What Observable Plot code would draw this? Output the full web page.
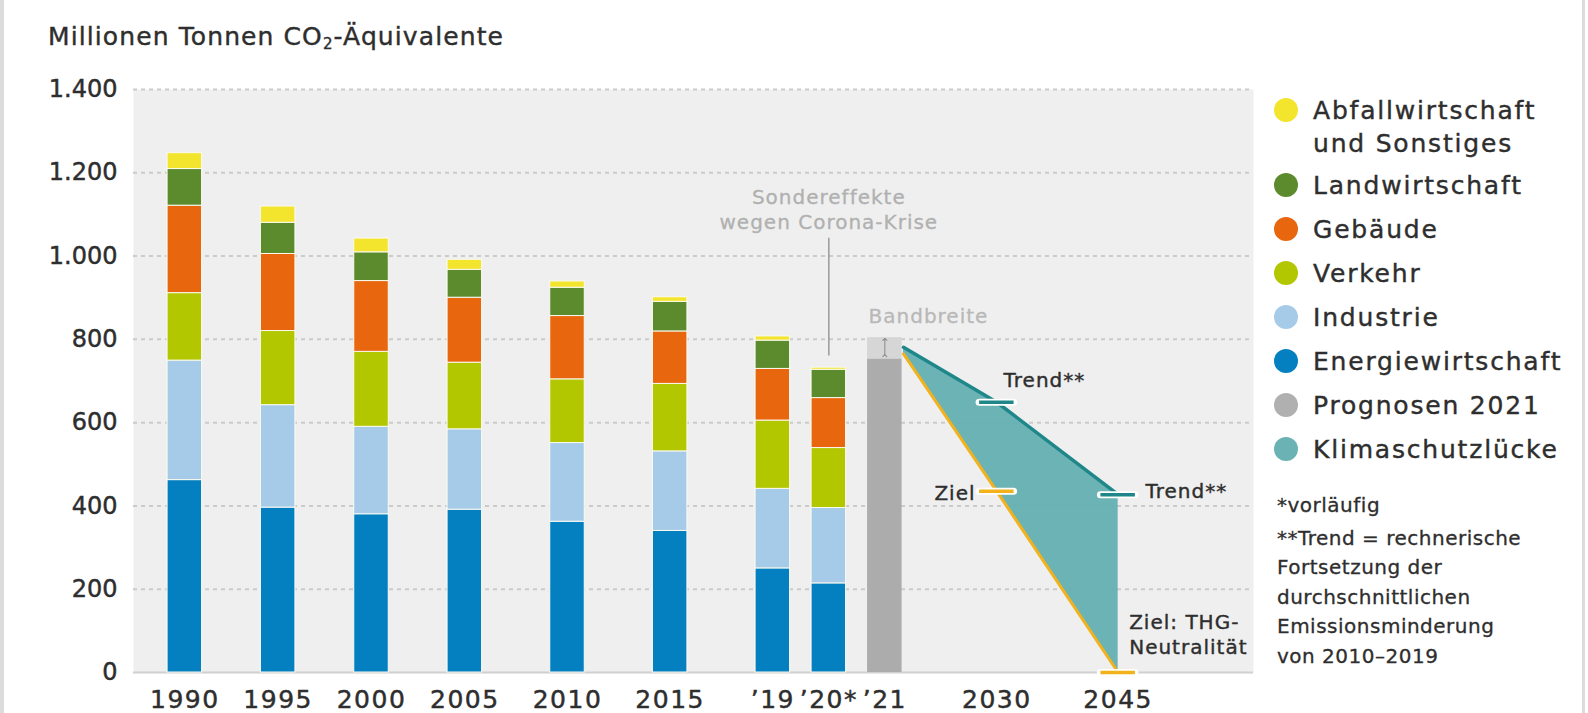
<!DOCTYPE html>
<html>
<head>
<meta charset="utf-8">
<script src="https://cdn.jsdelivr.net/npm/d3@7"></script>
<script src="https://cdn.jsdelivr.net/npm/@observablehq/plot@0.6"></script>
<style>
  body { margin: 0; background: #fff; font-family: "DejaVu Sans", sans-serif; color: #2e2e2e; }
  #wrap { position: relative; width: 1588px; height: 713px; overflow: hidden; background: #fff; }
  #chart { position: absolute; left: 0; top: 0; }
  #chart svg { display: block; }
  #chart [aria-label^="x-axis"] text { font-size: 25px; letter-spacing: 1.5px; stroke: #2e2e2e; stroke-width: 0.45px; }
  #chart [aria-label^="y-axis"] text { font-size: 24px; stroke: #2e2e2e; stroke-width: 0.45px; }
  #chart g[aria-label="text"] text { letter-spacing: 1px; }
  .title { position: absolute; left: 48px; top: 23px; font-size: 25px; letter-spacing: 1.1px; line-height: 28px; white-space: nowrap; -webkit-text-stroke: 0.4px #2e2e2e; }
  .title sub { font-size: 15px; vertical-align: -4px; line-height: 0; }
  .legend { position: absolute; left: 1274px; top: 93.5px; }
  .item { display: flex; align-items: flex-start; margin-bottom: 11px; font-size: 25px; letter-spacing: 1.8px; line-height: 33px; white-space: nowrap; -webkit-text-stroke: 0.4px #2e2e2e; }
  .item.first { margin-bottom: 9px; }
  .dot { width: 24px; height: 24px; border-radius: 50%; margin-top: 4.5px; margin-right: 15px; flex: none; }
  .notes { position: absolute; left: 1277px; top: 491px; font-size: 20px; line-height: 29.5px; letter-spacing: 0.5px; white-space: nowrap; -webkit-text-stroke: 0.3px #2e2e2e; }
  .notes .first { margin-bottom: 3px; }
  .bl { position: absolute; left: 0; top: 0; width: 4px; height: 713px; background: #dcdcdc; }
  .br { position: absolute; left: 1582px; top: 0; width: 3px; height: 713px; background: #dcdcdc; }
</style>
</head>
<body>
<div id="wrap">
  <div id="chart"></div>
  <div class="title">Millionen Tonnen CO<sub>2</sub>-Äquivalente</div>
  <div class="legend" id="legend"></div>
  <div class="notes">
    <div class="first">*vorläufig</div>
    <div>**Trend = rechnerische</div>
    <div>Fortsetzung der</div>
    <div>durchschnittlichen</div>
    <div>Emissionsminderung</div>
    <div>von 2010–2019</div>
  </div>
  <div class="bl"></div>
  <div class="br"></div>
</div>
<script>
// ---------- data ----------
const categories = ["1990", "1995", "2000", "2005", "2010", "2015", "’19", "’20*", "’21", "2030", "2045"];
const historyYears = ["1990", "1995", "2000", "2005", "2010", "2015", "’19", "’20*"];
const sectors = ["Energiewirtschaft", "Industrie", "Verkehr", "Gebäude", "Landwirtschaft", "Abfallwirtschaft und Sonstiges"];
const energiewirtschaft = [462, 396, 380, 391, 362, 340, 250, 214];
const industrie        = [287, 246, 210, 193, 189, 191, 191, 181];
const verkehr          = [162, 178, 180, 160, 153, 162, 164, 144];
const gebaeude         = [210, 185, 170, 156, 152, 126, 124, 120];
const landwirtschaft   = [88, 75, 69, 67, 68, 71, 68, 68];
const abfall           = [38, 39, 33, 24, 15, 11, 10, 5];
const prognoseYear = "’21";
const prognoseLow = 753;
const prognoseHigh = 804;
const pathKeys = ["’21+", "2030", "2045"];
const trendValues = [781, 649, 427];
const zielValues = [765, 435, 0];
const coronaRange = [760, 1043];
const yTicks = [0, 200, 400, 600, 800, 1000, 1200, 1400];
const legendLabels = ["Abfallwirtschaft\nund Sonstiges", "Landwirtschaft", "Gebäude", "Verkehr", "Industrie", "Energiewirtschaft", "Prognosen 2021", "Klimaschutzlücke"];

// ---------- styles / layout ----------
const sectorColors = ["#0480c1", "#a5cbe9", "#b3c700", "#e8670e", "#5c8b2d", "#f3e42e"];
const legendColors = ["#f3e42e", "#5c8b2d", "#e8670e", "#b3c700", "#a5cbe9", "#0480c1", "#b0b0b0", "#6ab2b3"];
const layout = {
  width: 1588, height: 713, marginLeft: 133, marginRight: 335, marginTop: 89, marginBottom: 41,
  leadSlots: 5, trailSlots: 14, barWidth: 34.5,
  gaps: {"1995": 10, "2000": 10, "2005": 10, "2010": 11, "2015": 11, "’19": 11, "’20*": 6, "’21": 6, "’21+": 2, "2030": 10, "2045": 13}
};

// band domain with spacer slots
const keys = ["1990", "1995", "2000", "2005", "2010", "2015", "’19", "’20*", "’21", "’21+", "2030", "2045"];
const xDomain = [];
let sp = 0;
const spacer = () => "_" + (sp++);
for (let i = 0; i < layout.leadSlots; i++) xDomain.push(spacer());
keys.forEach((k, i) => {
  if (i > 0) for (let j = 1; j < layout.gaps[k]; j++) xDomain.push(spacer());
  xDomain.push(k);
});
for (let i = 0; i < layout.trailSlots; i++) xDomain.push(spacer());
const bandPx = (layout.width - layout.marginLeft - layout.marginRight) / xDomain.length;
const inset = -(layout.barWidth - bandPx) / 2;

// tables
const sectorValues = [energiewirtschaft, industrie, verkehr, gebaeude, landwirtschaft, abfall];
const stacked = historyYears.flatMap((yr, i) => sectors.map((s, j) => ({year: yr, sector: s, value: sectorValues[j][i]})));
const prognoseRows = [{year: prognoseYear, low: prognoseLow, high: prognoseHigh}];
const pathRows = pathKeys.map((k, i) => ({key: k, trend: trendValues[i], ziel: zielValues[i]}));
const markerRows = pathRows.slice(1).flatMap(d => [
  {key: d.key, value: d.trend, kind: "trend"},
  {key: d.key, value: d.ziel, kind: "ziel"}
]);

const de = d3.formatLocale({decimal: ",", thousands: ".", grouping: [3], currency: ["", "€"]});
const fmt = de.format(",");

const tealLine = "#1f8789", zielLine = "#f1b21b", ink = "#2e2e2e";

const plot = Plot.plot({
  width: layout.width, height: layout.height,
  marginLeft: layout.marginLeft, marginRight: layout.marginRight,
  marginTop: layout.marginTop, marginBottom: layout.marginBottom,
  style: {fontFamily: "DejaVu Sans", fontSize: "24px", color: ink, background: "transparent", overflow: "visible"},
  x: {type: "band", domain: xDomain, padding: 0, ticks: categories, tickFormat: d => categories.includes(d) ? d : "", tickSize: 0, tickPadding: 18, label: null},
  y: {domain: [0, 1400], ticks: yTicks, tickFormat: fmt, tickSize: 0, tickPadding: 16, label: null},
  color: {domain: sectors, range: sectorColors},
  marks: [
    Plot.frame({fill: "#efefef", stroke: null}),
    Plot.ruleY(yTicks.filter(d => d > 0), {stroke: "#cbcbcb", strokeWidth: 2, strokeDasharray: "4,4"}),
    Plot.ruleY([0], {stroke: "#d0d0d0", strokeWidth: 2}),
    Plot.barY(stacked, {x: "year", y: "value", fill: "sector", stroke: "#fafaf0", strokeWidth: 1, insetLeft: inset, insetRight: inset}),
    Plot.barY(prognoseRows, {x: "year", y1: 0, y2: "low", fill: "#acacac", insetLeft: inset, insetRight: inset}),
    Plot.barY(prognoseRows, {x: "year", y1: "low", y2: "high", fill: "#d6d6d6", insetLeft: inset, insetRight: inset}),
    Plot.link(prognoseRows, {x1: "year", x2: "year", y1: d => d.low + 8, y2: d => d.high - 4, stroke: "#8a8a8a", strokeWidth: 1, markerStart: "arrow", markerEnd: "arrow"}),
    Plot.text(prognoseRows, {x: "year", y: "high", text: () => "Bandbreite", textAnchor: "start", dx: -16.3, dy: -20.6, fill: "#b8b8b8", stroke: "#b8b8b8", strokeWidth: 0.3, fontSize: 20}),
    Plot.areaY(pathRows, {x: "key", y1: "ziel", y2: "trend", fill: "#62aeb0", fillOpacity: 0.93}),
    Plot.line(pathRows, {x: "key", y: "trend", stroke: tealLine, strokeWidth: 3.5}),
    Plot.line(pathRows, {x: "key", y: "ziel", stroke: zielLine, strokeWidth: 3}),
    Plot.tickY(markerRows, {x: "key", y: "value", stroke: "white", strokeWidth: 7, insetLeft: inset, insetRight: inset, strokeLinecap: "round"}),
    Plot.tickY(markerRows, {x: "key", y: "value", stroke: d => d.kind === "trend" ? tealLine : zielLine, strokeWidth: 3.5, insetLeft: inset, insetRight: inset}),
    Plot.ruleX(["’20*"], {y1: coronaRange[0], y2: coronaRange[1], stroke: "#9a9a9a", strokeWidth: 1.5}),
    Plot.text(["’20*"], {x: d => d, y: coronaRange[1], text: () => "Sondereffekte\nwegen Corona-Krise", textAnchor: "middle", lineHeight: 1.25, dy: -29.8, fill: "#b0b0b0", stroke: "#b0b0b0", strokeWidth: 0.3, fontSize: 20}),
    Plot.text([pathRows[1]], {x: "key", y: "trend", text: () => "Trend**", textAnchor: "start", dx: 6.7, dy: -21.4, fill: ink, stroke: ink, strokeWidth: 0.4, fontSize: 20}),
    Plot.text([pathRows[1]], {x: "key", y: "ziel", text: () => "Ziel", textAnchor: "end", dx: -21.3, dy: 2.7, fill: ink, stroke: ink, strokeWidth: 0.4, fontSize: 20}),
    Plot.text([pathRows[2]], {x: "key", y: "trend", text: () => "Trend**", textAnchor: "start", dx: 27.3, dy: -2.6, fill: ink, stroke: ink, strokeWidth: 0.4, fontSize: 20}),
    Plot.text([pathRows[2]], {x: "key", y: "ziel", text: () => "Ziel: THG-\nNeutralität", textAnchor: "start", lineHeight: 1.25, dx: 11, dy: -39.2, fill: ink, stroke: ink, strokeWidth: 0.4, fontSize: 20})
  ]
});
document.getElementById("chart").appendChild(plot);

// legend
const legend = document.getElementById("legend");
legendLabels.forEach((lab, i) => {
  const item = document.createElement("div");
  item.className = "item" + (i === 0 ? " first" : "");
  const dot = document.createElement("div");
  dot.className = "dot";
  dot.style.background = legendColors[i];
  const txt = document.createElement("div");
  txt.innerHTML = lab.split("\n").join("<br>");
  item.appendChild(dot);
  item.appendChild(txt);
  legend.appendChild(item);
});
</script>
</body>
</html>
